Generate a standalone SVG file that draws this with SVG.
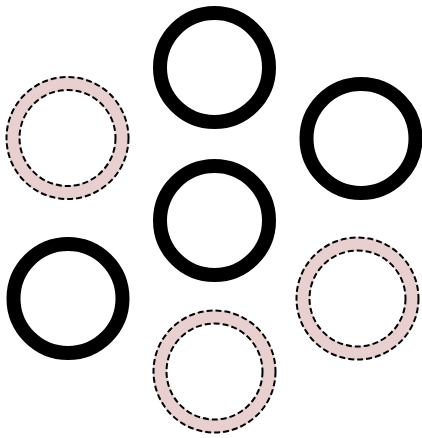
<svg xmlns="http://www.w3.org/2000/svg" width="422" height="438" viewBox="0 0 422 438">
<style>
.solid{fill:none;stroke:#000;stroke-width:14}
.band{fill:none;stroke:#e8d0d0;stroke-width:14}
.dash{fill:none;stroke:#000;stroke-width:2;stroke-dasharray:6,3}
</style>
<rect width="422" height="438" fill="#fff"/>
<g id="ring-top"><circle class="solid" cx="214.5" cy="67.5" r="54.5"/></g>
<g id="ring-right"><circle class="solid" cx="361" cy="138.5" r="54.5"/></g>
<g id="ring-center"><circle class="solid" cx="214.5" cy="220.5" r="54.5"/></g>
<g id="ring-lower-left"><circle class="solid" cx="68" cy="298.5" r="54.5"/></g>
<g id="ring-left"><circle class="band" cx="67.5" cy="138" r="54.5"/><circle class="dash" cx="67.5" cy="138" r="61"/><circle class="dash" cx="67.5" cy="138" r="48"/></g>
<g id="ring-bottom"><circle class="band" cx="214.5" cy="371.5" r="54.5"/><circle class="dash" cx="214.5" cy="371.5" r="61"/><circle class="dash" cx="214.5" cy="371.5" r="48"/></g>
<g id="ring-lower-right"><circle class="band" cx="357.5" cy="298.5" r="54.5"/><circle class="dash" cx="357.5" cy="298.5" r="61"/><circle class="dash" cx="357.5" cy="298.5" r="48"/></g>
<g id="connectors"/>
</svg>
